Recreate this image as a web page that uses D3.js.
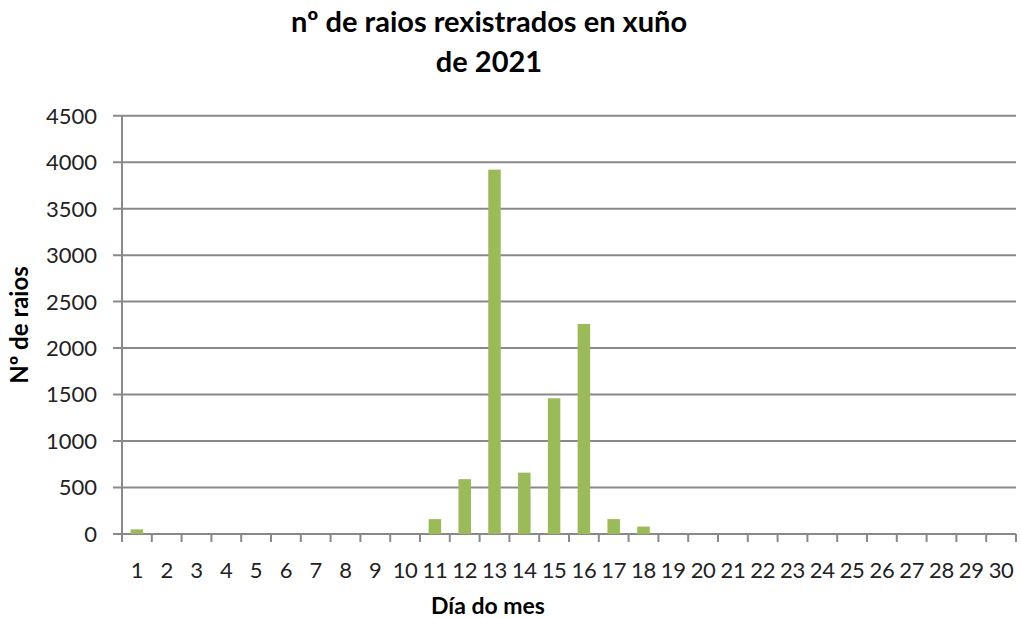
<!DOCTYPE html>
<html><head><meta charset="utf-8">
<script src="https://cdn.jsdelivr.net/npm/d3@7"></script>
<style>body{margin:0;background:#fff}svg{display:block}text{font-family:Lato,"Open Sans",sans-serif}</style>
</head><body><svg id="c" width="1021" height="618"></svg>
<script>
const days = d3.range(1, 31).map(String);
const strikes = [50,0,0,0,0,0,0,0,0,0,160,590,3920,660,1460,2260,160,80,0,0,0,0,0,0,0,0,0,0,0,0];
const yTicks = [0,500,1000,1500,2000,2500,3000,3500,4000,4500];
const titleLines = ["nº de raios rexistrados en xuño","de 2021"];
const xTitle = "Día do mes", yTitle = "Nº de raios";

const svg = d3.select("#c");
const L=122, R=1016, T=115.7, B=534;
const x = d3.scaleBand().domain(days).range([L,R]).paddingInner(0.58).paddingOuter(0.29);
const xb = d3.scaleBand().domain(days).range([L,R]);
const y = d3.scaleLinear().domain([0,4500]).range([B,T]);

svg.append("g").selectAll("line").data(yTicks).join("line")
  .attr("x1",113).attr("x2",R).attr("y1",d=>y(d)).attr("y2",d=>y(d))
  .attr("stroke","#898989").attr("stroke-width",2);
svg.append("line").attr("x1",L).attr("x2",L).attr("y1",T).attr("y2",B).attr("stroke","#898989").attr("stroke-width",2);
const xt = d3.range(0,31).map(i=>L+i*xb.bandwidth());
svg.append("g").selectAll("line").data(xt).join("line")
  .attr("x1",d=>d).attr("x2",d=>d).attr("y1",B).attr("y2",B+8)
  .attr("stroke","#898989").attr("stroke-width",2);
svg.append("g").selectAll("rect").data(strikes).join("rect")
  .attr("x",(d,i)=>x(days[i])).attr("width",x.bandwidth())
  .attr("y",d=>y(d)).attr("height",d=>B-y(d)).attr("fill","#9BBB59");
svg.append("g").selectAll("text").data(yTicks).join("text")
  .attr("x",97).attr("y",d=>y(d)).attr("dy","0.36em").attr("text-anchor","end")
  .attr("font-size",22).attr("fill","#222").text(d=>d);
svg.append("g").selectAll("text").data(days).join("text")
  .attr("x",d=>xb(d)+xb.bandwidth()/2).attr("y",578).attr("text-anchor","middle")
  .attr("font-size",22).attr("fill","#222").attr("letter-spacing",-0.3).text(d=>d);
svg.append("g").selectAll("text").data(titleLines).join("text")
  .attr("x",489).attr("y",(d,i)=>32+i*40).attr("text-anchor","middle")
  .attr("font-size",29).attr("font-weight","bold").attr("fill","#000").text(d=>d);
svg.append("text").attr("x",488).attr("y",614).attr("text-anchor","middle")
  .attr("font-size",23).attr("font-weight","bold").attr("fill","#000").text(xTitle);
svg.append("text").attr("transform","translate(28,325) rotate(-90)").attr("text-anchor","middle")
  .attr("font-size",24).attr("font-weight","bold").attr("fill","#000").text(yTitle);
</script></body></html>
